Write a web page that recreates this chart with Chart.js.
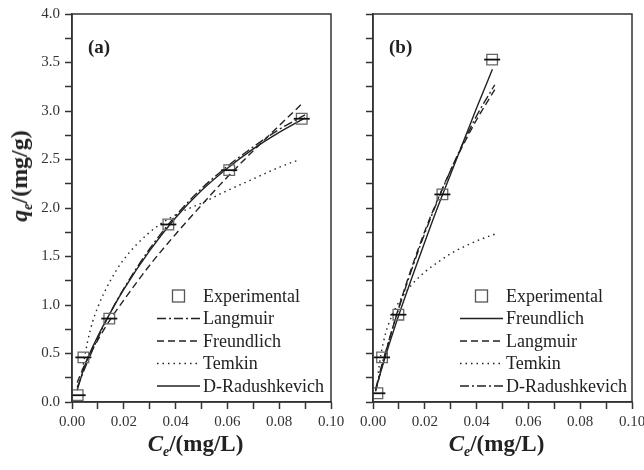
<!DOCTYPE html>
<html>
<head>
<meta charset="utf-8">
<script src="https://cdn.jsdelivr.net/npm/chart.js@4.4.1/dist/chart.umd.min.js"></script>
<style>
  body{margin:0;background:#fff;overflow:hidden;}
  #wrap{position:relative;width:644px;height:470px;
    font-family:"Liberation Serif","DejaVu Serif",serif;color:#222;}
  canvas{position:absolute;top:0;}
  .xtitle{position:absolute;top:431px;font-size:23px;font-weight:bold;
    white-space:nowrap;transform:translateX(-50%);line-height:26px;}
  .ytitle{position:absolute;left:19px;top:176px;font-size:24px;font-weight:bold;
    white-space:nowrap;transform:translate(-50%,-50%) rotate(-90deg);line-height:26px;}
  sub{font-size:14px;vertical-align:-5px;line-height:0;}
</style>
</head>
<body>
<div id="wrap">
  <canvas id="chartA" width="345" height="470" style="left:0"></canvas>
  <canvas id="chartB" width="299" height="470" style="left:345px"></canvas>
  <div class="ytitle"><i>q</i><sub><i>e</i></sub>/(mg/g)</div>
  <div class="xtitle" id="titleA"><i>C</i><sub><i>e</i></sub>/(mg/L)</div>
  <div class="xtitle" id="titleB"><i>C</i><sub><i>e</i></sub>/(mg/L)</div>
</div>
<script>
// panel (a) data
const expXa = [0.0022, 0.0044, 0.0144, 0.0372, 0.0607, 0.0887];
const expYa = [0.07, 0.46, 0.86, 1.83, 2.39, 2.92];
const langXa = [0.002, 0.005, 0.01, 0.015, 0.02, 0.03, 0.04, 0.05, 0.06, 0.07, 0.08, 0.09];
const langYa = [0.15, 0.35, 0.66, 0.93, 1.17, 1.58, 1.92, 2.20, 2.43, 2.63, 2.81, 2.96];
const freuXa = [0.002, 0.005, 0.01, 0.015, 0.02, 0.03, 0.04, 0.05, 0.06, 0.07, 0.08, 0.089];
const freuYa = [0.20, 0.39, 0.64, 0.86, 1.05, 1.41, 1.73, 2.03, 2.32, 2.59, 2.85, 3.08];
const temXa = [0.004, 0.006, 0.008, 0.01, 0.015, 0.02, 0.03, 0.04, 0.05, 0.06, 0.07, 0.08, 0.088];
const temYa = [0.33, 0.62, 0.83, 0.98, 1.26, 1.47, 1.75, 1.93, 2.05, 2.18, 2.30, 2.42, 2.50];
const drXa = [0.002, 0.005, 0.01, 0.015, 0.02, 0.03, 0.04, 0.05, 0.06, 0.07, 0.08, 0.09];
const drYa = [0.12, 0.38, 0.68, 0.93, 1.16, 1.56, 1.90, 2.18, 2.41, 2.61, 2.78, 2.93];

// panel (b) data
const expXb = [0.0017, 0.0035, 0.0098, 0.0268, 0.046];
const expYb = [0.09, 0.46, 0.90, 2.14, 3.53];
const freuXb = [0.001, 0.003, 0.005, 0.01, 0.015, 0.02, 0.025, 0.03, 0.035, 0.04, 0.0461];
const freuYb = [0.12, 0.31, 0.49, 0.90, 1.28, 1.65, 2.01, 2.35, 2.69, 3.03, 3.43];
const langXb = [0.001, 0.003, 0.005, 0.01, 0.015, 0.02, 0.025, 0.03, 0.035, 0.04, 0.047];
const langYb = [0.11, 0.32, 0.52, 0.98, 1.39, 1.76, 2.09, 2.39, 2.66, 2.91, 3.22];
const temXb = [0.002, 0.003, 0.005, 0.0075, 0.01, 0.015, 0.02, 0.025, 0.03, 0.035, 0.04, 0.047];
const temYb = [0.30, 0.48, 0.72, 0.90, 1.03, 1.21, 1.34, 1.44, 1.53, 1.60, 1.66, 1.73];
const drXb = [0.001, 0.003, 0.005, 0.01, 0.015, 0.02, 0.025, 0.03, 0.035, 0.04, 0.047];
const drYb = [0.13, 0.34, 0.53, 0.97, 1.37, 1.74, 2.08, 2.39, 2.68, 2.95, 3.27];

const SERIF = '"Liberation Serif","DejaVu Serif",serif';
const INK = "#222";
const DASHDOT = [9, 3, 2, 3];
const DASHED = [7, 4];
const DOTTED = [1.5, 4];

function pts(xs, ys){
  return xs.map((x, i) => ({x: x, y: ys[i]}));
}

function curve(label, xs, ys, dash){
  return {
    label: label,
    data: pts(xs, ys),
    showLine: true,
    borderColor: INK,
    borderWidth: 1.4,
    borderDash: dash,
    pointRadius: 0,
    cubicInterpolationMode: "monotone",
    fill: false
  };
}

function markers(xs, ys){
  // bar through the square, then the open square
  return [{
    label: "_bar",
    data: pts(xs, ys),
    showLine: false,
    pointStyle: "line",
    pointRadius: 8,
    pointBorderWidth: 1.8,
    pointBorderColor: "#111"
  }, {
    label: "Experimental",
    data: pts(xs, ys),
    showLine: false,
    pointStyle: "rect",
    pointRadius: 7.5,
    pointBorderWidth: 1.3,
    pointBorderColor: "#666",
    pointBackgroundColor: "rgba(255,255,255,0)"
  }];
}

// box, panel tag and legend drawn inside the plot area
const panelPlugin = {
  id: "panel",
  afterDraw(chart, args, opts){
    const ctx = chart.ctx;
    const a = chart.chartArea;
    ctx.save();
    ctx.strokeStyle = "#333";
    ctx.lineWidth = 1.5;
    ctx.strokeRect(a.left, a.top, a.right - a.left, a.bottom - a.top);

    ctx.fillStyle = INK;
    ctx.font = "bold 19px " + SERIF;
    ctx.textBaseline = "middle";
    ctx.fillText(opts.tag, a.left + 16, a.top + 34);

    ctx.font = "18px " + SERIF;
    const lines = chart.data.datasets.filter(d => d.showLine === true);
    const rows = ["Experimental"].concat(lines.map(d => d.label));
    rows.forEach((name, i) => {
      const y = a.bottom - 106 + i * 22.5;
      const x0 = a.right - opts.lineOff;
      const x1 = x0 + 43;
      if(i === 0){
        ctx.strokeStyle = "#555";
        ctx.lineWidth = 1.3;
        ctx.setLineDash([]);
        ctx.strokeRect((x0 + x1) / 2 - 6, y - 6, 12, 12);
      }else{
        const d = lines[i - 1];
        ctx.strokeStyle = INK;
        ctx.lineWidth = 1.4;
        ctx.setLineDash(d.borderDash);
        ctx.beginPath();
        ctx.moveTo(x0, y);
        ctx.lineTo(x1, y);
        ctx.stroke();
      }
      ctx.setLineDash([]);
      ctx.fillStyle = INK;
      ctx.fillText(name, x1 + 3, y + 1);
    });
    ctx.restore();
  }
};

function axes(yWidth, showY){
  return {
    x: {
      type: "linear",
      min: 0,
      max: 0.1,
      afterFit(scale){
        scale.height = 68;
        scale.paddingLeft = 0;
        scale.paddingRight = 0;
      },
      afterBuildTicks(scale){
        scale.ticks = [];
        for(let i = 0; i <= 10; i++) scale.ticks.push({value: i / 100});
      },
      ticks: {
        padding: 4,
        autoSkip: false,
        minRotation: 0,
        maxRotation: 0,
        color: "#333",
        font: {family: SERIF, size: 15},
        callback: v => (Math.round(v * 100) % 2 === 0) ? v.toFixed(2) : ""
      },
      grid: {drawOnChartArea: false, tickLength: 7, tickColor: "#333", tickWidth: 1.5},
      border: {color: "#333", width: 1.5}
    },
    y: {
      min: 0,
      max: 4,
      afterFit(scale){ scale.width = yWidth; },
      afterBuildTicks(scale){
        scale.ticks = [];
        for(let i = 0; i <= 16; i++) scale.ticks.push({value: i / 4});
      },
      ticks: {
        padding: 5,
        autoSkip: false,
        color: "#333",
        font: {family: SERIF, size: 15},
        callback: v => (showY && Math.round(v * 4) % 2 === 0) ? v.toFixed(1) : ""
      },
      grid: {drawOnChartArea: false, tickLength: 7, tickColor: "#333", tickWidth: 1.5},
      border: {color: "#333", width: 1.5}
    }
  };
}

function makeChart(id, datasets, tag, yWidth, showY, padRight, lineOff){
  return new Chart(document.getElementById(id), {
    type: "scatter",
    data: {datasets: datasets},
    options: {
      responsive: false,
      animation: false,
      layout: {padding: {left: 0, right: padRight, top: 14, bottom: 0}},
      plugins: {
        legend: {display: false},
        tooltip: {enabled: false},
        panel: {tag: tag, lineOff: lineOff}
      },
      scales: axes(yWidth, showY)
    },
    plugins: [panelPlugin]
  });
}

const chartA = makeChart("chartA",
  markers(expXa, expYa).concat([
    curve("Langmuir", langXa, langYa, DASHDOT),
    curve("Freundlich", freuXa, freuYa, DASHED),
    curve("Temkin", temXa, temYa, DOTTED),
    curve("D-Radushkevich", drXa, drYa, [])
  ]), "(a)", 72, true, 14, 174);

const chartB = makeChart("chartB",
  markers(expXb, expYb).concat([
    curve("Freundlich", freuXb, freuYb, []),
    curve("Langmuir", langXb, langYb, DASHED),
    curve("Temkin", temXb, temYb, DOTTED),
    curve("D-Radushkevich", drXb, drYb, DASHDOT)
  ]), "(b)", 28, false, 12, 172);

// centre the axis titles under each plot
function placeTitle(chart, el, offset){
  const a = chart.chartArea;
  el.style.left = (offset + (a.left + a.right) / 2 - 6) + "px";
}
placeTitle(chartA, document.getElementById("titleA"), 0);
placeTitle(chartB, document.getElementById("titleB"), 345);
</script>
</body>
</html>
